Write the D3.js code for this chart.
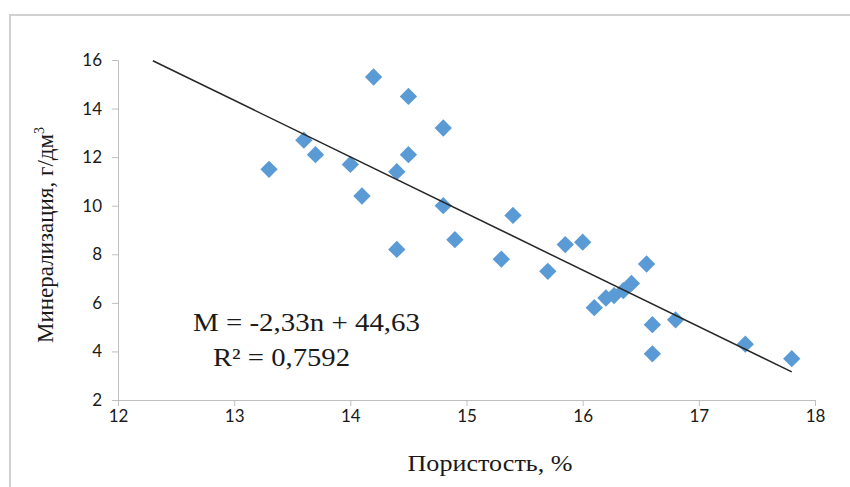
<!DOCTYPE html>
<html><head><meta charset="utf-8">
<script src="https://cdn.jsdelivr.net/npm/d3@7"></script>
<style>body{margin:0;background:#fff}svg{display:block}</style>
</head><body>
<svg id="c" width="850" height="487"></svg>
<script>
const porosity = [13.3,13.6,13.7,14.0,14.1,14.2,14.4,14.4,14.5,14.5,14.8,14.8,14.9,15.3,15.4,15.7,15.85,16.0,16.1,16.2,16.27,16.35,16.42,16.55,16.6,16.6,16.8,17.4,17.8];
const mineral = [11.5,12.7,12.1,11.7,10.4,15.3,11.4,8.2,14.5,12.1,13.2,10.0,8.6,7.8,9.6,7.3,8.4,8.5,5.8,6.2,6.3,6.5,6.8,7.6,5.1,3.9,5.3,4.3,3.7];
const xTicks = [12,13,14,15,16,17,18];
const yTicks = [2,4,6,8,10,12,14,16];
const trend = {slope:-2.33, intercept:44.63, x0:12.3, x1:17.8};
const eqText = "M = -2,33n + 44,63";
const r2Text = "R² = 0,7592";
const xTitle = "Пористость, %";
const yTitle = "Минерализация, г/дм";

const svg = d3.select("#c");
svg.append("path").attr("d","M10,487 V15 H850").attr("fill","none").attr("stroke","#d0d0d0").attr("stroke-width",2);

const x = d3.scaleLinear().domain([12,18]).range([118,815]);
const y = d3.scaleLinear().domain([2,16]).range([400,60]);

const axColor = "#bfbfbf";
const gx = svg.append("g").attr("transform","translate(0,400)")
  .call(d3.axisBottom(x).tickValues(xTicks).tickFormat(d3.format("d")).tickSize(6).tickPadding(4));
const gy = svg.append("g").attr("transform","translate(118,0)")
  .call(d3.axisLeft(y).tickValues(yTicks).tickFormat(d3.format("d")).tickSize(6).tickPadding(10));
[gx,gy].forEach(g=>{
  g.select(".domain").attr("stroke",axColor);
  g.selectAll(".tick line").attr("stroke",axColor);
  g.selectAll(".tick text").attr("fill","#1a1a1a").style("font-family","Lato, 'Open Sans', sans-serif").style("font-size","17px");
});

const sym = d3.symbol().type(d3.symbolSquare).size(150);
svg.append("g").selectAll("path").data(porosity.map((p,i)=>[p,mineral[i]])).join("path")
  .attr("d",sym)
  .attr("transform",d=>`translate(${x(d[0])},${y(d[1])}) rotate(45)`)
  .attr("fill","#5b9bd5");

svg.append("line")
  .attr("x1",x(trend.x0)).attr("y1",y(trend.slope*trend.x0+trend.intercept))
  .attr("x2",x(trend.x1)).attr("y2",y(trend.slope*trend.x1+trend.intercept))
  .attr("stroke","#262626").attr("stroke-width",1.5);

const serif = "'Liberation Serif','Times New Roman',serif";
svg.append("text").attr("x",193).attr("y",331).text(eqText)
  .attr("textLength",227).attr("lengthAdjust","spacingAndGlyphs")
  .style("font-family",serif).style("font-size","25px").attr("fill","#1a1a1a");
svg.append("text").attr("x",213).attr("y",366).text(r2Text)
  .attr("textLength",137).attr("lengthAdjust","spacingAndGlyphs")
  .style("font-family",serif).style("font-size","25px").attr("fill","#1a1a1a");

svg.append("text").attr("x",490).attr("y",471).attr("text-anchor","middle").text(xTitle)
  .attr("textLength",165).attr("lengthAdjust","spacingAndGlyphs")
  .style("font-family",serif).style("font-size","23px").attr("fill","#1a1a1a");
const yt = svg.append("text").attr("transform","translate(53,235) rotate(-90)").attr("text-anchor","middle")
  .style("font-family",serif).style("font-size","23px").attr("fill","#1a1a1a");
yt.append("tspan").text(yTitle);
yt.append("tspan").text("3").attr("dy",-9).style("font-size","14px");
</script>
</body></html>
